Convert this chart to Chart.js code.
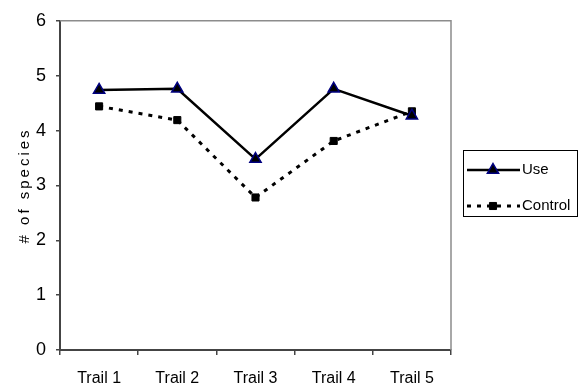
<!DOCTYPE html>
<html>
<head>
<meta charset="utf-8">
<script src="https://cdn.jsdelivr.net/npm/chart.js@4.4.0/dist/chart.umd.min.js"></script>
<style>
  html, body { margin: 0; padding: 0; background: #fff; }
  #wrap { width: 579px; height: 390px; }
</style>
</head>
<body>
<div id="wrap"><canvas id="myChart" width="579" height="390"></canvas></div>
<script>
// datos
const trails = ['Trail 1', 'Trail 2', 'Trail 3', 'Trail 4', 'Trail 5']
const useValues = [4.74, 4.76, 3.48, 4.76, 4.27]
const controlValues = [4.44, 4.19, 2.78, 3.81, 4.35]
const seriesNames = ['Use', 'Control']

const sans = "'Liberation Sans', Arial, sans-serif"

// marco gris arriba y a la derecha
const framePlugin = {
  id: 'frame',
  beforeDatasetsDraw(chart) {
    const { ctx, chartArea: a } = chart
    ctx.save()
    ctx.strokeStyle = '#8c8c8c'
    ctx.lineWidth = 1.5
    ctx.beginPath()
    ctx.moveTo(a.left, a.top)
    ctx.lineTo(a.right, a.top)
    ctx.lineTo(a.right, a.bottom)
    ctx.stroke()
    ctx.restore()
  }
}

// titulo del eje y con letras separadas
const spacedTitle = {
  id: 'spacedTitle',
  beforeDraw(chart) {
    const s = chart.scales.y
    if (s && !s._spaced) {
      const orig = s.drawTitle
      s.drawTitle = function () {
        const c = this.ctx
        c.save()
        c.letterSpacing = '3px'
        orig.call(this)
        c.restore()
      }
      s._spaced = true
    }
  }
}

// leyenda con caja
const boxLegend = {
  id: 'boxLegend',
  afterDraw(chart) {
    const ctx = chart.ctx
    const x = 463, y = 150, w = 114, h = 66
    ctx.save()
    ctx.strokeStyle = '#000'
    ctx.lineWidth = 1
    ctx.strokeRect(x + 0.5, y + 0.5, w, h)
    chart.data.datasets.forEach((ds, i) => {
      const ry = y + 20 + i * 36
      ctx.strokeStyle = ds.borderColor
      ctx.lineWidth = ds.borderWidth
      ctx.setLineDash(ds.borderDash || [])
      ctx.beginPath()
      ctx.moveTo(467, ry)
      ctx.lineTo(520, ry)
      ctx.stroke()
      ctx.setLineDash([])
      ctx.fillStyle = ds.pointBackgroundColor
      ctx.strokeStyle = ds.pointBorderColor
      ctx.lineWidth = ds.pointBorderWidth
      Chart.helpers.drawPoint(ctx, { pointStyle: ds.pointStyle, radius: ds.pointRadius, borderWidth: ds.pointBorderWidth }, 493, ry)
      ctx.fillStyle = '#000'
      ctx.font = '15px ' + sans
      ctx.textBaseline = 'middle'
      ctx.textAlign = 'left'
      ctx.fillText(ds.label, 522, ry)
    })
    ctx.restore()
  }
}

const ctx = document.getElementById('myChart').getContext('2d')
const myChart = new Chart(ctx, {
  type: 'line',
  data: {
    labels: trails,
    datasets: [{
      label: seriesNames[0],
      data: useValues,
      borderColor: '#000',
      borderWidth: 2.5,
      pointStyle: 'triangle',
      pointRadius: 6.5,
      pointBackgroundColor: '#000',
      pointBorderColor: '#000080',
      pointBorderWidth: 1.5,
      tension: 0
    }, {
      label: seriesNames[1],
      data: controlValues,
      borderColor: '#000',
      borderWidth: 3,
      borderDash: [4, 6],
      pointStyle: 'rect',
      pointRadius: 5,
      pointBackgroundColor: '#000',
      pointBorderColor: '#000',
      pointBorderWidth: 1,
      tension: 0
    }]
  },
  options: {
    responsive: false,
    animation: false,
    layout: { padding: { top: 18, right: 128, left: 0, bottom: 0 } },
    plugins: {
      legend: { display: false },
      tooltip: { enabled: false }
    },
    scales: {
      x: {
        offset: true,
        grid: { offset: true, drawOnChartArea: false, drawTicks: true, tickLength: 5, color: '#444', lineWidth: 1.5 },
        border: { color: '#444', width: 2 },
        ticks: { color: '#000', padding: 14, maxRotation: 0, font: { family: sans, size: 16 } },
        afterFit(scale) { scale.height = 40 }
      },
      y: {
        min: 0,
        max: 6,
        grid: { drawOnChartArea: false, drawTicks: true, tickLength: 4, color: '#444', lineWidth: 1.5 },
        border: { color: '#444', width: 2 },
        ticks: { stepSize: 1, color: '#000', padding: 10, font: { family: sans, size: 18 } },
        title: {
          display: true,
          text: '# of species',
          color: '#000',
          padding: { top: 16, bottom: 0 },
          font: { family: sans, size: 15 }
        },
        afterFit(scale) { scale.width = 60 }
      }
    }
  },
  plugins: [framePlugin, spacedTitle, boxLegend]
})
</script>
</body>
</html>
